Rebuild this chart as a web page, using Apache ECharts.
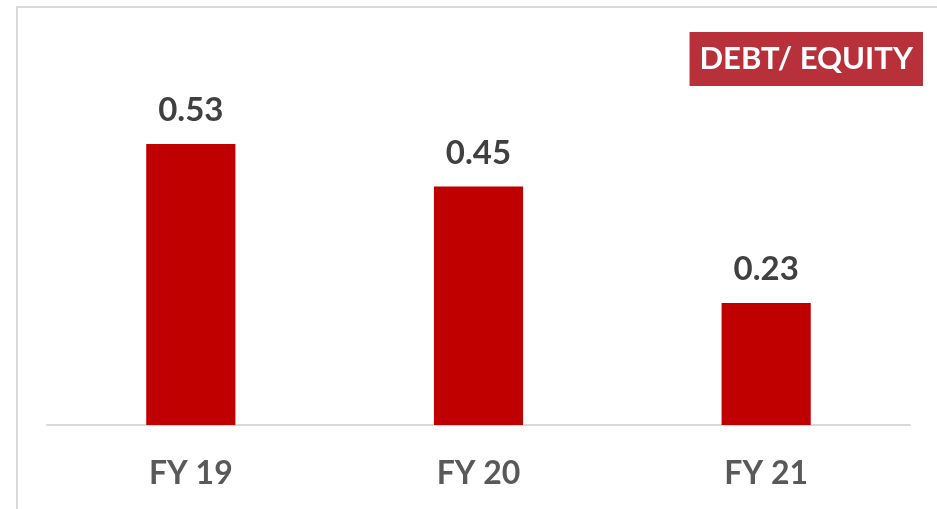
<!DOCTYPE html>
<html>
<head>
<meta charset="utf-8">
<script src="https://cdn.jsdelivr.net/npm/echarts@6/dist/echarts.min.js"></script>
<style>
  html, body { margin: 0; padding: 0; background: #fff; }
  #main { width: 937px; height: 509px; }
</style>
</head>
<body>
<div id="main"></div>
<script>
// 负债权益比
var categories = ['FY 19', 'FY 20', 'FY 21'];
var debtEquity = [0.53, 0.45, 0.23];
var titleText = 'DEBT/ EQUITY';

var myChart = echarts.init(document.getElementById('main'));

var option = {
    backgroundColor: '#fff',
    animation: false,
    title: {
        text: titleText,
        right: 14,
        top: 32,
        padding: [8, 10, 8, 10],
        backgroundColor: '#b7303a',
        textStyle: {
            color: '#fff',
            fontFamily: 'Lato',
            fontWeight: 'bold',
            fontSize: 31,
            lineHeight: 38
        }
    },
    graphic: [
        {
            type: 'rect',
            shape: { x: 17, y: 7, width: 1000, height: 1000 },
            style: { fill: 'none', stroke: '#d9d9d9', lineWidth: 2 },
            silent: true
        }
    ],
    grid: {
        left: 47,
        right: 27,
        top: 1,
        bottom: 84
    },
    xAxis: {
        type: 'category',
        data: categories,
        axisLine: { lineStyle: { color: '#d9d9d9', width: 2 } },
        axisTick: { show: false },
        axisLabel: {
            color: '#595959',
            fontFamily: 'Lato',
            fontWeight: 'bold',
            fontSize: 32,
            margin: 33
        }
    },
    yAxis: {
        type: 'value',
        min: 0,
        max: 0.8,
        show: false
    },
    series: [
        {
            type: 'bar',
            data: debtEquity,
            barWidth: '31%',
            itemStyle: { color: '#c00000' },
            label: {
                show: true,
                position: 'top',
                distance: 17,
                color: '#404040',
                fontFamily: 'Lato',
                fontWeight: 'bold',
                fontSize: 33,
                formatter: function (p) { return p.value.toFixed(2); }
            }
        }
    ]
};

myChart.setOption(option);
</script>
</body>
</html>
